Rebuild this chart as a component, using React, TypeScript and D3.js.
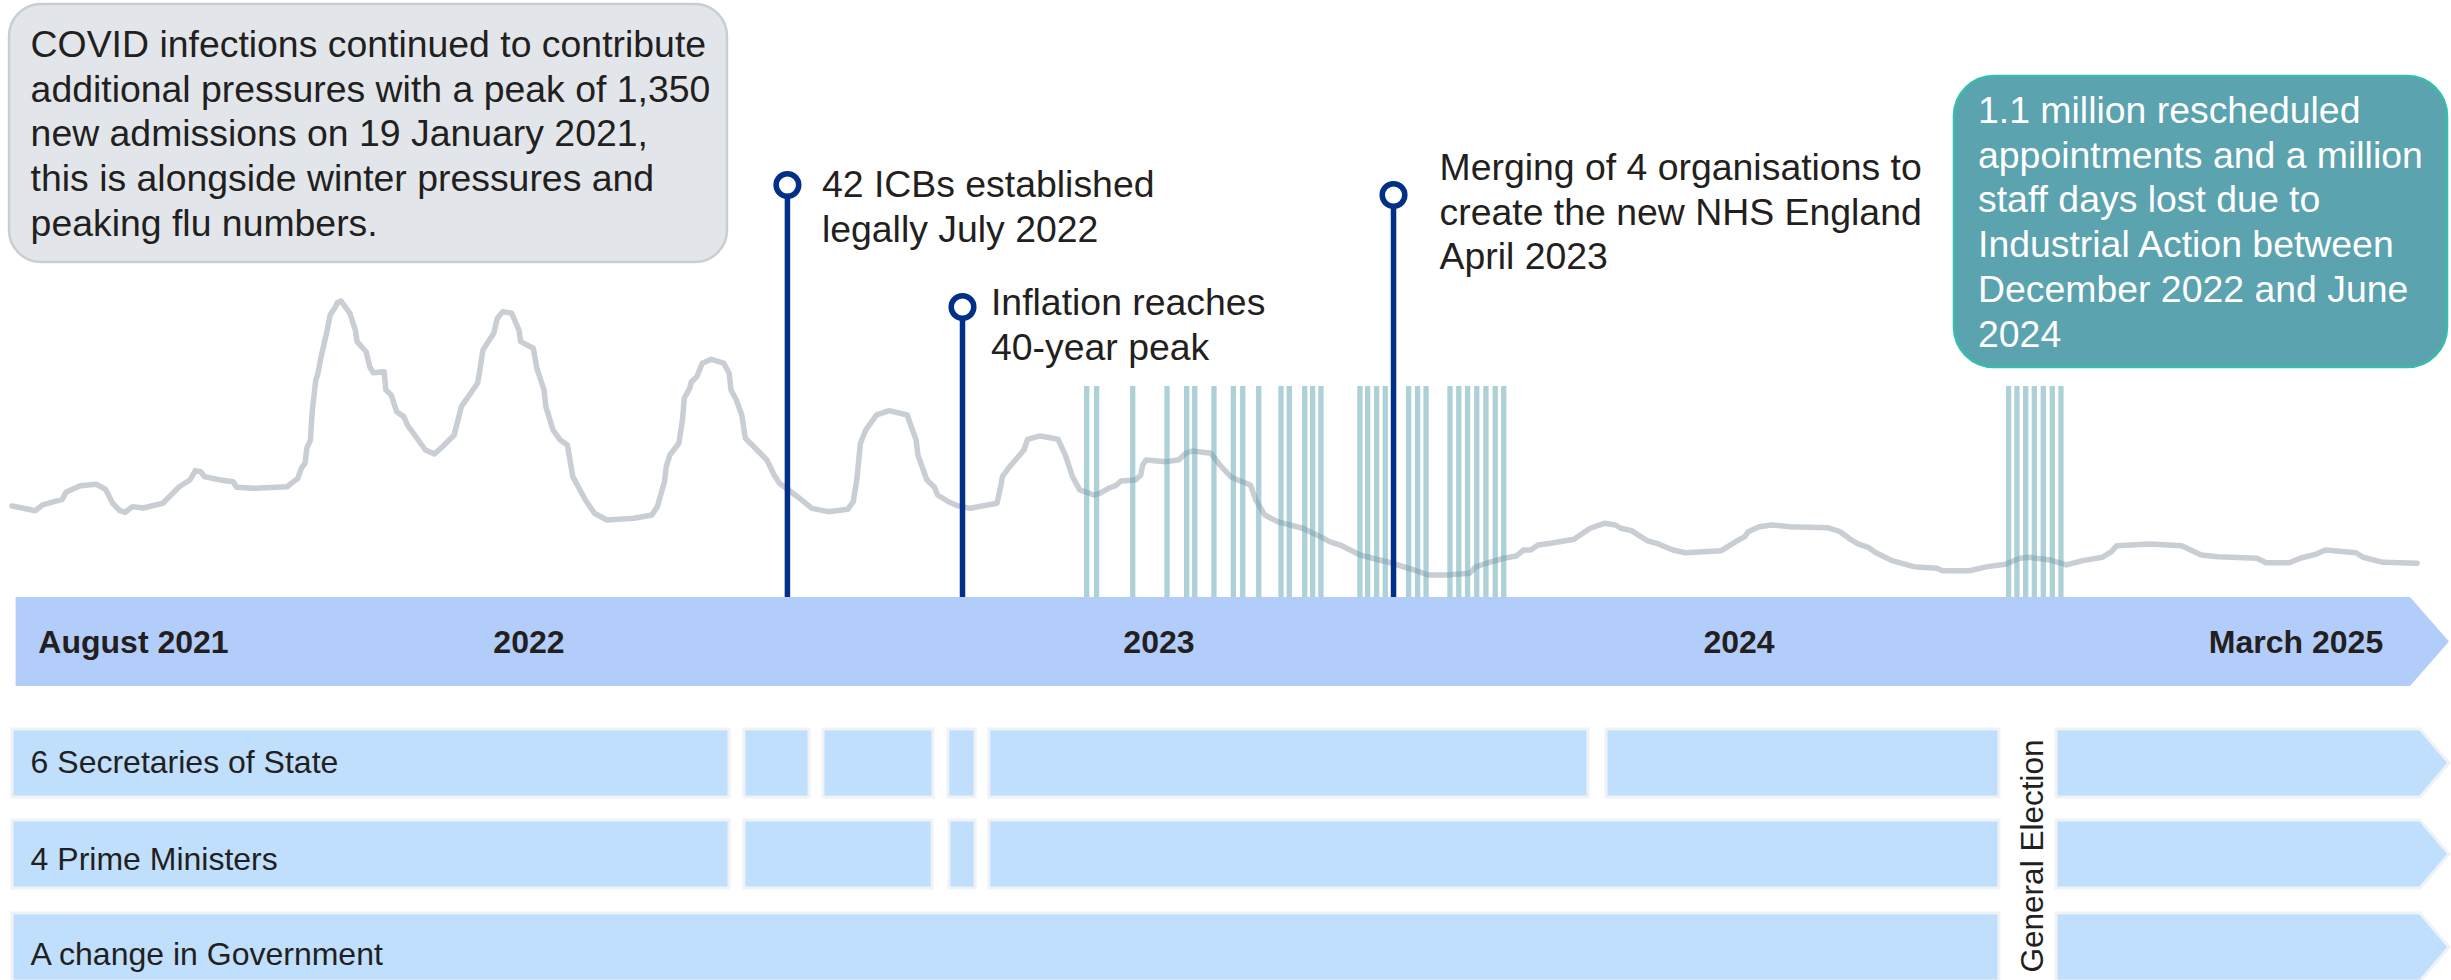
import React from "react";
import * as d3 from "d3";

// ---------------- DATA ----------------
// Timeline position: days from start of August 2021 (as placed on the graphic)
const admissionsDay = [
  0, 5, 13, 17, 28, 30, 38, 47, 52, 56, 60, 63, 67, 73, 84, 93, 99, 102, 105, 107,
  116, 123, 125, 134, 153, 159, 161, 163, 164, 166, 167, 169, 170, 172, 175, 177, 180, 181, 183, 188,
  191, 192, 197, 199, 201, 207, 208, 211, 214, 218, 220, 230, 235, 240, 246, 250, 259, 260, 262, 268,
  270, 273, 278, 282, 283,
  290, 292, 296, 297, 301, 305, 309, 312, 319, 324, 331, 346, 356, 359, 363, 364, 366, 371, 373, 374,
  377, 378, 381, 384, 389, 396, 399, 400, 403, 406, 408, 420, 424, 427, 437, 445, 454, 465, 468, 470,
  472, 475, 481, 488, 498, 501, 503, 504, 507, 509, 513, 515, 521, 526, 533, 548, 550, 551, 555,
  563, 565, 572, 582, 586, 590, 594, 602, 605, 610, 614, 617, 625, 628, 629, 631, 642, 649, 653, 657,
  667, 672, 678, 682, 689, 692, 697, 704, 711, 718, 728, 733, 739, 750, 757, 768, 780, 788, 798, 811,
  814, 820, 830,
  837, 841, 845, 849, 856, 869, 878, 886, 892, 895, 901, 910, 916, 924, 931, 951, 959, 964, 966, 972,
  979, 989, 1010, 1017, 1022, 1027, 1033, 1037, 1046, 1058, 1071, 1074, 1089, 1099, 1109,
  1117, 1122, 1134, 1143, 1152, 1163, 1168, 1171, 1189, 1207, 1218, 1227, 1249, 1254, 1267, 1273, 1282, 1287, 1304, 1308,
  1319, 1338,
];
// Daily new COVID admissions (approximate)
const admissionsValue = [
  758, 744, 719, 767, 814, 873, 928, 939, 898, 781, 719, 706, 753, 742, 781, 919, 975, 1053, 1044, 1003,
  975, 961, 914, 906, 919, 989, 1073, 1114, 1239, 1308, 1544, 1808, 1850, 2003, 2198, 2350, 2419, 2453, 2467, 2364,
  2225, 2128, 2044, 1919, 1869, 1878, 1725, 1683, 1544, 1503, 1433, 1225, 1192, 1261, 1350, 1586, 1781, 1864, 2058, 2198,
  2323, 2378, 2364, 2225, 2128,
  2073, 1906, 1725, 1586, 1392, 1308, 1267, 1003, 808, 698, 642, 656, 683, 753, 961, 1086, 1183, 1281, 1475, 1656,
  1739, 1794, 1836, 1948, 1981, 1948, 1864, 1725, 1642, 1517, 1323, 1142, 1017, 948, 836, 739, 711, 731, 794, 975,
  1281, 1392, 1517, 1553, 1517, 1392, 1308, 1183, 1058, 975, 919, 850, 794, 761, 739, 781, 919, 1003, 1086,
  1225, 1314, 1342, 1314, 1183, 1003, 892, 850, 864, 906, 928, 967, 975, 1017, 1100, 1142, 1128, 1142, 1198, 1217,
  1198, 1100, 1003, 975, 933, 808, 683, 628, 600, 573, 503, 461, 433, 350, 323, 281, 225, 183, 183, 198,
  248, 281, 323,
  342, 392, 392, 433, 448, 481, 573, 614, 600, 573, 553, 467, 442, 392, 369, 386, 461, 503, 544, 586,
  600, 586, 578, 544, 489, 442, 411, 369, 303, 253, 239, 219, 219, 253, 273,
  323, 331, 308, 267, 303, 331, 378, 428, 442, 428, 350, 336, 323, 286, 286, 323, 358, 392, 369, 331,
  289, 281,
];

const timelineLabels = ["August 2021", "2022", "2023", "2024", "March 2025"];
const timelineLabelDay = [67.6, 287.6, 638.1, 960.8, 1270.7];

// Industrial action days
const strikeDays = [
  597.9, 603.4, 623.5, 642.6, 653.5, 658.0, 668.7, 679.5, 684.7, 693.6, 706.0, 710.6, 719.2, 723.6, 728.2,
  749.9, 754.2, 759.2, 764.0, 777.0, 782.0, 786.7, 800.0, 804.9, 809.8, 814.9, 820.0, 825.2, 829.9,
  1110.8, 1115.4, 1120.3, 1125.1, 1130.1, 1135.1, 1139.9,
];

const eventLabels = [
  ["42 ICBs established", "legally July 2022"],
  ["Inflation reaches", "40-year peak"],
  ["Merging of 4 organisations to", "create the new NHS England", "April 2023"],
];
const eventDays = [431.4, 528.8, 768.6];

const rowLabels = ["6 Secretaries of State", "4 Prime Ministers", "A change in Government"];
// [start, end] tenure spans; null end = continues (arrow)
const rowSegments = [
  [[0, 398.9], [407.2, 443.4], [451.2, 512.4], [520.7, 535.8], [543.5, 876.8], [886.8, 1105.4], [1137.2, null]],
  [[0, 398.9], [407.2, 511.9], [521.3, 535.8], [543.5, 1105.4], [1137.2, null]],
  [[0, 1105.4], [1137.2, null]],
];
const electionLabel = "General Election";
const electionDay = 1121.3;

const covidNote = [
  "COVID infections continued to contribute",
  "additional pressures with a peak of 1,350",
  "new admissions on 19 January 2021,",
  "this is alongside winter pressures and",
  "peaking flu numbers.",
];
const strikeNote = [
  "1.1 million rescheduled",
  "appointments and a million",
  "staff days lost due to",
  "Industrial Action between",
  "December 2022 and June",
  "2024",
];

// ---------------- LAYOUT ----------------
const W = 2451;
const H = 980;
const FONT = "'Liberation Sans', Arial, Helvetica, sans-serif";
const TEXT = "#231f20";
const NAVY = "#003087";
const NOTE_FS = 37.4;
const BAND_BOTTOM = 686;
const TIP_X = 2449;
const ROW_TOP = [729, 820, 913];
const ROW_H = 68;
const ROW_LABEL_DY = [44, 50, 52];
const EVENT_LAYOUT = [
  { cy: 185, dx: 34.5, ty: 197 },
  { cy: 307, dx: 28.5, ty: 315 },
  { cy: 195, dx: 46, ty: 180 },
];

export default function App() {
  const x = d3.scaleLinear().domain([0, 1338]).range([12, 2417]);
  const y = d3.scaleLinear().domain([0, 2500]).range([597, 297]);
  const bandTop = y(0);

  const points = admissionsDay.map((d, i) => [d, admissionsValue[i]]);
  const lineGen = d3
    .line()
    .x((d: any) => x(d[0]))
    .y((d: any) => y(d[1]))
    .curve(d3.curveLinear);

  const segPath = (s: number, e: number | null, y0: number, h: number, x0Override?: number) => {
    const x0 = x0Override !== undefined ? x0Override : x(s);
    if (e === null) {
      const x1 = TIP_X - 29;
      return `M${x0},${y0}H${x1}L${TIP_X},${y0 + h / 2}L${x1},${y0 + h}H${x0}Z`;
    }
    const x1 = x(e);
    return `M${x0},${y0}H${x1}V${y0 + h}H${x0}Z`;
  };

  const bandPath = `M15.6,${bandTop}H${TIP_X - 39}L${TIP_X},${(bandTop + BAND_BOTTOM) / 2}L${TIP_X - 39},${BAND_BOTTOM}H15.6Z`;

  return (
    <>
      <style>{"html,body{margin:0;padding:0;overflow:hidden;background:#fff}"}</style>
      <svg width={W} height={H} style={{ display: "block" }} fontFamily={FONT}>
        <rect width={W} height={H} fill="#ffffff" />

        {/* COVID note */}
        <rect x={9} y={4} width={718} height={258} rx={32} fill="#e2e6ea" stroke="#c9ced3" strokeWidth={2.5} />
        {covidNote.map((t, i) => (
          <text key={i} x={30.6} y={57 + i * 44.65} fontSize={NOTE_FS} fill={TEXT}>
            {t}
          </text>
        ))}

        {/* Strike note */}
        <rect x={1954} y={76} width={493} height={291} rx={40} fill="#5ba3ae" stroke="#36bdac" strokeWidth={2.5} />
        {strikeNote.map((t, i) => (
          <text key={i} x={1978} y={123 + i * 44.7} fontSize={NOTE_FS} fill="#ffffff">
            {t}
          </text>
        ))}

        {/* Admissions line */}
        <path
          d={lineGen(points as any) || ""}
          fill="none"
          stroke="#c8ced4"
          strokeWidth={5.5}
          strokeLinejoin="round"
          strokeLinecap="round"
        />

        {/* Strike days */}
        {strikeDays.map((d, i) => (
          <rect key={i} x={x(d) - 2.65} y={386} width={5.3} height={bandTop - 386} fill="#5ba3ae" opacity={0.5} />
        ))}

        {/* Event markers */}
        {eventDays.map((d, i) => {
          const L = EVENT_LAYOUT[i];
          const ex = x(d);
          return (
            <g key={i}>
              <line x1={ex} x2={ex} y1={L.cy + 11} y2={bandTop} stroke={NAVY} strokeWidth={5.5} />
              <circle cx={ex} cy={L.cy} r={11.3} fill="#ffffff" stroke={NAVY} strokeWidth={5.5} />
              {eventLabels[i].map((t, j) => (
                <text key={j} x={ex + L.dx} y={L.ty + j * 44.5} fontSize={NOTE_FS} fill={TEXT}>
                  {t}
                </text>
              ))}
            </g>
          );
        })}

        {/* Timeline band */}
        <path d={bandPath} fill="#b3cdfb" />
        {timelineLabels.map((t, i) => (
          <text
            key={i}
            x={x(timelineLabelDay[i])}
            y={653}
            fontSize={32}
            fontWeight="bold"
            textAnchor="middle"
            fill={TEXT}
          >
            {t}
          </text>
        ))}

        {/* Rows */}
        {rowSegments.map((segs, r) => (
          <g key={r}>
            {segs.map((s, k) => (
              <path
                key={k}
                d={segPath(s[0] as number, s[1] as number | null, ROW_TOP[r], ROW_H, k === 0 ? 12 : undefined)}
                fill="#bfdffd"
                stroke="#eff2f6"
                strokeWidth={3}
              />
            ))}
            <text x={30.6} y={ROW_TOP[r] + ROW_LABEL_DY[r]} fontSize={32} fill={TEXT}>
              {rowLabels[r]}
            </text>
          </g>
        ))}

        {/* General Election */}
        <text
          transform={`translate(${x(electionDay) + 15.5},856) rotate(-90)`}
          fontSize={31.5}
          textAnchor="middle"
          fill={TEXT}
        >
          {electionLabel}
        </text>
      </svg>
    </>
  );
}
